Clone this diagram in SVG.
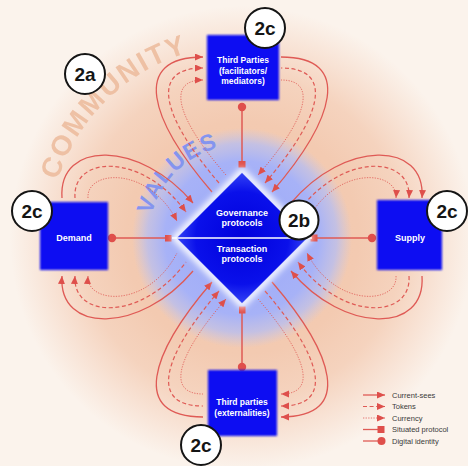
<svg xmlns="http://www.w3.org/2000/svg" width="468" height="466" viewBox="0 0 468 466">
<defs>
<style>
.ln{fill:none;stroke:#df5a55}
.s{stroke-width:1.3}
.d{stroke-width:1.2;stroke-dasharray:4 2.6}
.t{stroke-width:0.8;stroke-dasharray:1.3 1.3}
.fwd{marker-end:url(#ah)}
.rev{marker-start:url(#ahs)}
.idl{stroke:#df5a55;stroke-width:1.5;fill:none;marker-start:url(#dot);marker-end:url(#sq)}
.box{fill:#0808f2;filter:url(#soft)}
.bt{font-family:"Liberation Sans",Arial,sans-serif;font-weight:bold;fill:#ffffff;text-anchor:middle}
.lab circle{fill:#ffffff;stroke:#151515;stroke-width:2}
.lab text{font-family:"Liberation Sans",Arial,sans-serif;font-weight:bold;font-size:19px;fill:#151515;text-anchor:middle}
.leg{font-family:"Liberation Sans",Arial,sans-serif;font-size:7.5px;fill:#3a3a3a}
.arc{font-family:"Liberation Sans",Arial,sans-serif;font-weight:bold}
</style>
<radialGradient id="peach" cx="242" cy="238" r="232" gradientUnits="userSpaceOnUse">
<stop offset="0" stop-color="#f2c7ad"/>
<stop offset="0.5" stop-color="#f3cab1"/>
<stop offset="0.7" stop-color="#f5d3be"/>
<stop offset="0.84" stop-color="#f8e2d4"/>
<stop offset="1" stop-color="#fbf3ec"/>
</radialGradient>
<radialGradient id="blue" cx="242" cy="238" r="110" gradientUnits="userSpaceOnUse">
<stop offset="0" stop-color="#9aa8f9"/>
<stop offset="0.7" stop-color="#a7b2f7"/>
<stop offset="0.86" stop-color="#b4bdf4" stop-opacity="0.75"/>
<stop offset="1" stop-color="#c0c6f0" stop-opacity="0"/>
</radialGradient>
<radialGradient id="dg" cx="242" cy="238" r="66" gradientUnits="userSpaceOnUse">
<stop offset="0" stop-color="#0000dc"/>
<stop offset="0.7" stop-color="#0a10ea"/>
<stop offset="1" stop-color="#3444f5"/>
</radialGradient>
<filter id="glow" x="-30%" y="-30%" width="160%" height="160%"><feGaussianBlur stdDeviation="3"/></filter>
<filter id="soft" x="-10%" y="-10%" width="120%" height="120%"><feGaussianBlur stdDeviation="1.3"/></filter>
<marker id="ah" markerUnits="userSpaceOnUse" markerWidth="9" markerHeight="8" refX="8" refY="3.5" orient="auto"><path d="M0,0 L8,3.5 L0,7 z" fill="#de4f4b"/></marker>
<marker id="ahs" markerUnits="userSpaceOnUse" markerWidth="9" markerHeight="8" refX="8" refY="3.5" orient="auto-start-reverse"><path d="M0,0 L8,3.5 L0,7 z" fill="#de4f4b"/></marker>
<marker id="dot" markerUnits="userSpaceOnUse" markerWidth="10" markerHeight="10" refX="5" refY="5" orient="auto"><circle cx="5" cy="5" r="4.2" fill="#df4f4b"/></marker>
<marker id="sq" markerUnits="userSpaceOnUse" markerWidth="8" markerHeight="8" refX="3.5" refY="3.5" orient="auto"><rect width="7" height="7" fill="#df4f4b"/></marker>
<path id="arcC" d="M51.9,271.5 A193,193 0 0 1 280.1,48.8"/>
<path id="arcV" d="M151.7,262.2 A93.5,93.5 0 0 1 266.2,147.7"/>
<g id="q">
<path class="ln s" d="M212,192 C150,120 130,57 203,57"/>
<path class="ln d" d="M219,183 C163,118 148,68 203,68"/>
<path class="ln t" d="M226,175 C178,120 165,80 203,80"/>
<path class="ln s" d="M62,198 C58,140 140,140 193,203"/>
<path class="ln d" d="M75,198 C72,155 142,152 186,212"/>
<path class="ln t" d="M88,198 C86,170 148,165 177,221"/>
</g>
</defs>

<g id="background">
<rect width="468" height="466" fill="#fbf3ec"/>
<circle cx="242" cy="238" r="232" fill="url(#peach)"/>
<text class="arc" font-size="28" letter-spacing="2" fill="#edbd9f" opacity="0.9"><textPath href="#arcC" startOffset="50%" text-anchor="middle">COMMUNITY</textPath></text>
<circle cx="242" cy="238" r="110" fill="url(#blue)"/>
<text class="arc" font-size="23" letter-spacing="1.4" fill="#8494ef"><textPath href="#arcV" startOffset="50%" text-anchor="middle">VALUES</textPath></text>
</g>

<g id="connectors">
<use href="#q" class="fwd"/>
<use href="#q" class="rev" transform="matrix(-1,0,0,1,484,0)"/>
<use href="#q" class="fwd" transform="matrix(-1,0,0,-1,484,474)"/>
<use href="#q" class="rev" transform="matrix(1,0,0,-1,0,474)"/>
<path class="idl" d="M242,107 L242,164"/>
<path class="idl" d="M242,367 L242,310"/>
<path class="idl" d="M112,238 L168,238"/>
<path class="idl" d="M372,238 L314,238"/>
</g>

<g id="node-protocols">
<polygon points="242,172 308,238 242,304 176,238" fill="none" stroke="#ffffff" stroke-width="7" filter="url(#glow)"/>
<polygon points="242,172 308,238 242,304 176,238" fill="url(#dg)" stroke="#dfe3ff" stroke-width="1.2"/>
<line x1="172" y1="238" x2="312" y2="238" stroke="#ffffff" stroke-width="1.6"/>
<text class="bt" font-size="9" x="242" y="215.5">Governance</text>
<text class="bt" font-size="9" x="242" y="226">protocols</text>
<text class="bt" font-size="9" x="242" y="251.5">Transaction</text>
<text class="bt" font-size="9" x="242" y="262">protocols</text>
</g>

<g id="node-third-parties-top">
<rect class="box" x="207" y="35" width="72" height="65"/>
<text class="bt" font-size="8.5" x="243" y="62.5">Third Parties</text>
<text class="bt" font-size="8.5" x="243" y="73.5">(facilitators/</text>
<text class="bt" font-size="8.5" x="243" y="84">mediators)</text>
</g>

<g id="node-demand">
<rect class="box" x="40" y="202" width="68" height="68"/>
<text class="bt" font-size="9" x="74" y="241">Demand</text>
</g>

<g id="node-supply">
<rect class="box" x="377" y="200" width="65" height="70"/>
<text class="bt" font-size="9" x="410" y="241">Supply</text>
</g>

<g id="node-third-parties-bottom">
<rect class="box" x="208" y="370" width="69" height="66"/>
<text class="bt" font-size="8.5" x="242" y="405">Third parties</text>
<text class="bt" font-size="8.5" x="242" y="415.5">(externalities)</text>
</g>

<g id="label-2a" class="lab"><circle cx="85" cy="74" r="20"/><text x="85" y="80.5">2a</text></g>
<g id="label-2b" class="lab"><circle cx="299" cy="220" r="19.5"/><text x="299" y="226.5">2b</text></g>
<g id="label-2c-top" class="lab"><circle cx="265" cy="28" r="20"/><text x="265" y="34.5">2c</text></g>
<g id="label-2c-left" class="lab"><circle cx="32" cy="211" r="20"/><text x="32" y="217.5">2c</text></g>
<g id="label-2c-right" class="lab"><circle cx="447" cy="211" r="20"/><text x="447" y="217.5">2c</text></g>
<g id="label-2c-bottom" class="lab"><circle cx="201" cy="445" r="20"/><text x="201" y="451.5">2c</text></g>

<g id="legend">
<path class="ln s fwd" d="M363,395 L385,395"/>
<path class="ln d fwd" d="M363,406.5 L385,406.5"/>
<path class="ln t fwd" d="M363,418 L385,418"/>
<path class="ln s" d="M363,429.5 L378,429.5"/>
<rect x="377.5" y="426" width="7" height="7" fill="#df4f4b"/>
<path class="ln s" d="M363,441 L378,441"/>
<circle cx="381.5" cy="441" r="4" fill="#df4f4b"/>
<text class="leg" x="392" y="397.5">Current-sees</text>
<text class="leg" x="392" y="409">Tokens</text>
<text class="leg" x="392" y="420.5">Currency</text>
<text class="leg" x="392" y="432">Situated protocol</text>
<text class="leg" x="392" y="443.5">Digital identity</text>
</g>
</svg>
